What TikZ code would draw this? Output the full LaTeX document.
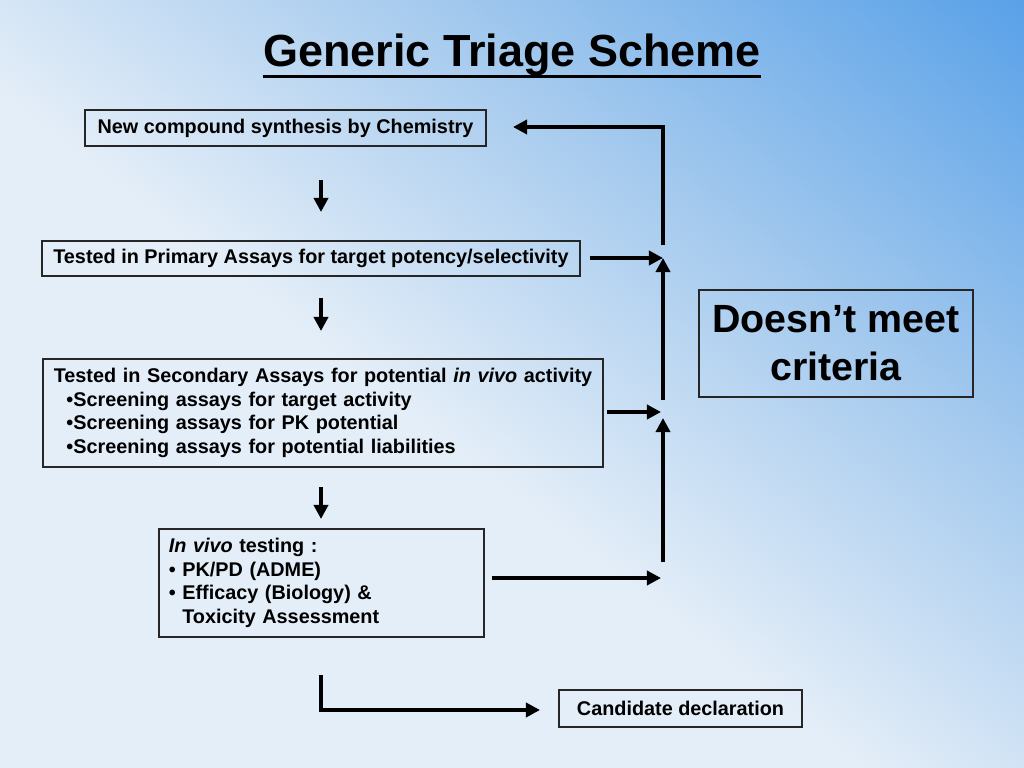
\documentclass[tikz,border=0pt]{standalone}
\usepackage{fontspec}
\setmainfont{Liberation Sans}
\usetikzlibrary{arrows.meta}

\definecolor{bglight}{RGB}{228,238,248}
\definecolor{bgmid}{RGB}{165,202,238}
\definecolor{bgdeep}{RGB}{35,132,228}
\pgfdeclareverticalshading{skyshade}{100bp}{color(0bp)=(bglight); color(45bp)=(bglight); color(64bp)=(bgmid); color(100bp)=(bgdeep)}

\begin{document}
\begin{tikzpicture}[x=0.025cm,y=-0.025cm,
  box/.style={draw=black!85,line width=1.1pt,inner sep=0pt,
    font=\bfseries\fontsize{14.1}{16.8}\selectfont},
  arr/.style={line width=2.8pt,-{Triangle[length=10pt,width=10pt]}}]

  \shade[shading=skyshade,shading angle=-38] (0,0) rectangle (1024,768);
  \useasboundingbox (0,0) rectangle (1024,768);

  \node[anchor=base,inner sep=0pt,font=\bfseries\fontsize{32}{38}\selectfont]
    (title) at (512,67) {Generic Triage Scheme};
  \draw[line width=2.2pt] ([yshift=-7pt]title.base west) -- ([yshift=-7pt]title.base east);

  % the boxes
  \node[box,minimum width=10.025cm,minimum height=0.9cm] (chem) at (285.5,128)
    {New compound synthesis by Chemistry};
  \node[box,minimum width=13.45cm,minimum height=0.875cm] (prim) at (311,258.5)
    {Tested in Primary Assays for target potency/selectivity};
  \node[box,anchor=north west,inner xsep=0.275cm,text width=13.45cm,align=left,
    minimum height=2.7cm] (sec) at (42,358)
    {\mbox{Tested in Secondary Assays for potential \textit{in vivo} activity}\\
     \hspace*{9pt}•Screening assays for target activity\\
     \hspace*{9pt}•Screening assays for PK potential\\
     \hspace*{9pt}•Screening assays for potential liabilities};
  \node[box,anchor=north west,inner xsep=0.25cm,text width=7.625cm,align=left,
    minimum height=2.7cm] (vivo) at (158,528)
    {\textit{In vivo} testing :\\
     • PK/PD (ADME)\\
     • Efficacy (Biology) \&\\
     \phantom{• }Toxicity Assessment};
  \node[box,minimum width=6.075cm,minimum height=0.925cm] (cand) at (680.5,708.5)
    {Candidate declaration};
  \node[box,minimum width=6.85cm,minimum height=2.675cm,align=center,
    font=\bfseries\fontsize{28}{34}\selectfont] (fail) at (836,343.5)
    {Doesn’t meet\\criteria};

  % arrow ends
  \coordinate (d1s) at (321,180); \coordinate (d1e) at (321,212);
  \coordinate (d2s) at (321,298); \coordinate (d2e) at (321,331);
  \coordinate (d3s) at (321,487); \coordinate (d3e) at (321,519);
  \coordinate (loops) at (663,245); \coordinate (loope) at (513,127);
  \coordinate (p1) at (590,258); \coordinate (j1) at (663,258);
  \coordinate (u1) at (663,400);
  \coordinate (s1) at (607,412); \coordinate (j2) at (661,412);
  \coordinate (u2) at (663,562); \coordinate (j2u) at (663,418);
  \coordinate (v1) at (492,578); \coordinate (j3) at (661,578);
  \coordinate (c1) at (321,675); \coordinate (c2) at (540,710);

  \draw[arr] (d1s) -- (d1e);
  \draw[arr] (d2s) -- (d2e);
  \draw[arr] (d3s) -- (d3e);

  \draw[arr] (loops) |- (loope);
  \draw[arr] (p1) -- (j1);
  \draw[arr] (u1) -- (j1);
  \draw[arr] (s1) -- (j2);
  \draw[arr] (u2) -- (j2u);
  \draw[arr] (v1) -- (j3);
  \draw[arr] (c1) |- (c2);

\end{tikzpicture}
\end{document}
